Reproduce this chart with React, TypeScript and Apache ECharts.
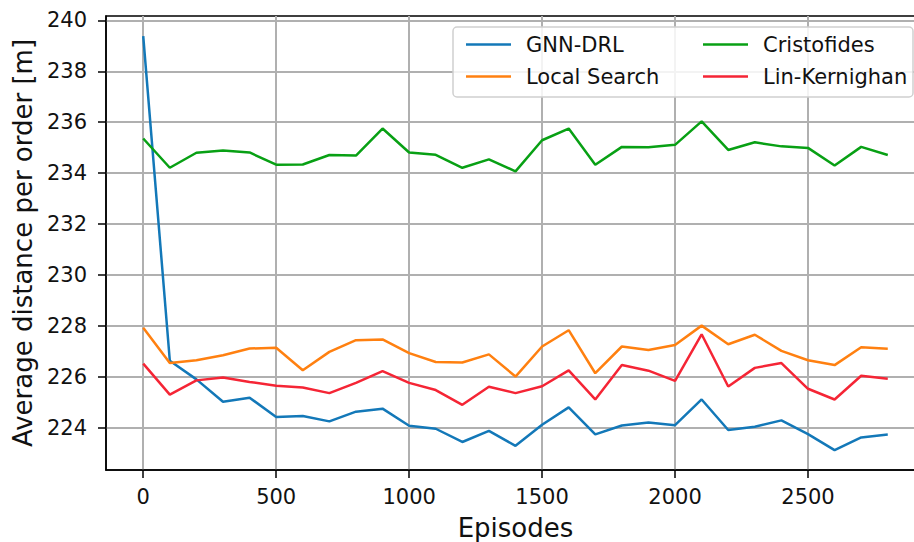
import React, { useEffect, useRef } from "react";
import * as echarts from "echarts";

const episodes = [0, 100, 200, 300, 400, 500, 600, 700, 800, 900, 1000, 1100, 1200, 1300, 1400, 1500, 1600, 1700, 1800, 1900, 2000, 2100, 2200, 2300, 2400, 2500, 2600, 2700, 2800];

const gnnDrl = [239.38, 226.63, 225.9, 225.02, 225.18, 224.42, 224.46, 224.25, 224.63, 224.75, 224.08, 223.96, 223.44, 223.88, 223.29, 224.12, 224.8, 223.74, 224.09, 224.21, 224.1, 225.11, 223.91, 224.04, 224.29, 223.75, 223.12, 223.62, 223.73];
const localSearch = [227.93, 226.54, 226.65, 226.85, 227.11, 227.14, 226.26, 226.98, 227.44, 227.47, 226.93, 226.58, 226.56, 226.88, 226.01, 227.19, 227.83, 226.14, 227.19, 227.05, 227.25, 228.01, 227.28, 227.65, 227.02, 226.65, 226.46, 227.16, 227.1];
const cristofides = [235.36, 234.21, 234.8, 234.89, 234.81, 234.33, 234.34, 234.71, 234.69, 235.75, 234.81, 234.72, 234.21, 234.54, 234.07, 235.29, 235.75, 234.33, 235.03, 235.02, 235.11, 236.03, 234.91, 235.21, 235.05, 234.99, 234.3, 235.03, 234.71];
const linKernighan = [226.52, 225.3, 225.86, 225.97, 225.8, 225.65, 225.58, 225.36, 225.76, 226.22, 225.76, 225.48, 224.9, 225.61, 225.36, 225.63, 226.25, 225.11, 226.46, 226.24, 225.84, 227.67, 225.62, 226.35, 226.54, 225.53, 225.11, 226.04, 225.92];

const xTicks = [0, 500, 1000, 1500, 2000, 2500];
const yTicks = [224, 226, 228, 230, 232, 234, 236, 238, 240];

const seriesNames = ["GNN-DRL", "Local Search", "Cristofides", "Lin-Kernighan"];
const seriesValues = [gnnDrl, localSearch, cristofides, linKernighan];
const seriesColors = ["#1378b8", "#ff8010", "#08a014", "#f52535"];

const FONT = "DejaVu Sans";

export default function App() {
  const ref = useRef<HTMLDivElement>(null);

  useEffect(() => {
    document.body.style.margin = "0";
    if (!ref.current) return;
    const chart = echarts.init(ref.current, null, { renderer: "svg" });

    const series = seriesNames.map((name, i) => ({
      name,
      type: "line",
      data: episodes.map((e, j) => [e, seriesValues[i][j]]),
      symbol: "none",
      lineStyle: { width: 2.5, color: seriesColors[i] },
      itemStyle: { color: seriesColors[i] },
      z: 2 + i * 0.1,
    }));

    const legendCommon = {
      orient: "vertical",
      top: 29,
      icon: "rect",
      itemWidth: 45,
      itemHeight: 2.5,
      itemGap: 11,
      textStyle: {
        fontFamily: FONT,
        fontSize: 21,
        lineHeight: 21,
        color: "#111",
        padding: [0, 0, 0, 10],
      },
      z: 10,
    };

    chart.setOption({
      animation: false,
      backgroundColor: "#ffffff",
      grid: {
        left: 106,
        top: 16,
        right: -11,
        bottom: 72,
        containLabel: false,
        outerBoundsMode: "none",
        show: true,
        borderColor: "#000",
        borderWidth: 1.5,
        backgroundColor: "transparent",
      },
      legend: [
        { ...legendCommon, left: 461, data: ["GNN-DRL", "Local Search"] },
        { ...legendCommon, left: 698, data: ["Cristofides", "Lin-Kernighan"] },
      ],
      graphic: [
        {
          type: "rect",
          shape: { x: 453, y: 27, width: 460, height: 70, r: 4 },
          style: { fill: "rgba(255,255,255,0.85)", stroke: "#d0d0d0", lineWidth: 1.5 },
          z: 9,
        },
      ],
      xAxis: {
        type: "value",
        min: -140,
        max: 2940,
        name: "Episodes",
        nameLocation: "middle",
        nameGap: 45,
        nameTextStyle: { fontFamily: FONT, fontSize: 26, color: "#111", verticalAlign: "top" },
        axisLine: { show: true, onZero: false, lineStyle: { color: "#000", width: 1.5 } },
        axisTick: { show: true, length: 8, lineStyle: { color: "#000", width: 1.5 }, customValues: xTicks },
        axisLabel: {
          fontFamily: FONT,
          fontSize: 21,
          color: "#111",
          margin: 16,
          customValues: xTicks,
          formatter: (v: number) => String(v),
        },
        splitLine: { show: true, lineStyle: { color: "#b0b0b0", width: 2 } },
      },
      yAxis: {
        type: "value",
        min: 222.34,
        max: 240.17,
        name: "Average distance per order [m]",
        nameLocation: "middle",
        nameGap: 68,
        nameTextStyle: { fontFamily: FONT, fontSize: 26, color: "#111" },
        axisLine: { show: true, onZero: false, lineStyle: { color: "#000", width: 1.5 } },
        axisTick: { show: true, length: 8, lineStyle: { color: "#000", width: 1.5 }, customValues: yTicks },
        axisLabel: {
          fontFamily: FONT,
          fontSize: 21,
          color: "#111",
          margin: 19,
          customValues: yTicks,
          formatter: (v: number) => String(v),
        },
        splitLine: { show: true, lineStyle: { color: "#b0b0b0", width: 2 } },
      },
      series,
    });

    return () => chart.dispose();
  }, []);

  return <div ref={ref} style={{ width: 914, height: 542 }} />;
}
